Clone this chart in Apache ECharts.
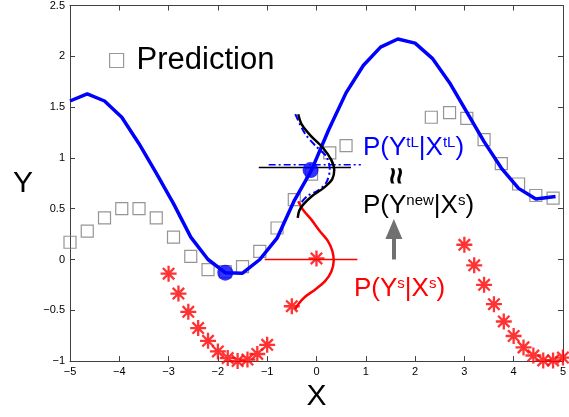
<!DOCTYPE html>
<html>
<head>
    <meta charset="utf-8">
    <title>GP transfer</title>
    <script src="https://cdn.jsdelivr.net/npm/echarts@6/dist/echarts.min.js"></script>
</head>
<body style="margin:0">
    <div id="main" style="width: 569px;height:417px;"></div>
    <script type="text/javascript">
        // blue GP mean curve
        var meanX = [-5, -4.65, -4.3, -3.95, -3.6, -3.25, -2.9, -2.55, -2.2, -1.85, -1.5, -1.15, -0.8, -0.45, -0.1,
                     0.25, 0.6, 0.95, 1.3, 1.65, 2.0, 2.35, 2.7, 3.05, 3.4, 3.75, 4.1, 4.45, 4.85];
        var meanY = [1.56, 1.63, 1.56, 1.40, 1.14, 0.85, 0.55, 0.22, 0.0, -0.13, -0.135, 0.0, 0.21, 0.58, 0.88,
                     1.28, 1.64, 1.91, 2.09, 2.17, 2.13, 1.98, 1.74, 1.45, 1.16, 0.90, 0.70, 0.595, 0.62];
        // grey squares (prediction)
        var predX = [-5, -4.65, -4.3, -3.95, -3.6, -3.25, -2.9, -2.55, -2.2, -1.85, -1.5, -1.15, -0.8, -0.45, -0.1,
                     0.27, 0.6, 2.33, 2.7, 3.05, 3.4, 3.75, 4.1, 4.45, 4.8];
        var predY = [0.17, 0.28, 0.41, 0.50, 0.50, 0.41, 0.22, 0.03, -0.1, -0.12, -0.07, 0.08, 0.31, 0.59, 0.84,
                     1.05, 1.12, 1.40, 1.445, 1.39, 1.18, 0.944, 0.743, 0.63, 0.605];
        // red source samples
        var srcX = [-3, -2.8, -2.6, -2.4, -2.2, -2.0, -1.8, -1.6, -1.4, -1.2, -1.0, -0.5, 0,
                    3.0, 3.2, 3.4, 3.6, 3.8, 4.0, 4.2, 4.4, 4.6, 4.8, 5.0];
        var srcY = [-0.14, -0.335, -0.515, -0.675, -0.80, -0.905, -0.97, -1.0, -0.985, -0.93, -0.84, -0.46, 0.01,
                    0.145, -0.057, -0.249, -0.44, -0.61, -0.753, -0.865, -0.945, -0.993, -0.993, -0.965];
        // big blue dots
        var dotX = [-1.85, -0.12];
        var dotY = [-0.13, 0.88];
        // red density P(Ys|Xs), drawn sideways
        var redDensX = [-0.37, -0.27, -0.1, 0.07, 0.23, 0.32, 0.35, 0.3, 0.17, -0.03, -0.23, -0.37, -0.43];
        var redDensY = [0.573, 0.487, 0.39, 0.278, 0.183, 0.087, -0.01, -0.12, -0.216, -0.297, -0.367, -0.44, -0.49];
        // black density P(Ynew|Xs)
        var blkDensX = [-0.37, -0.3, -0.12, 0.13, 0.3, 0.36, 0.32, 0.16, -0.1, -0.27, -0.35, -0.38];
        var blkDensY = [1.43, 1.33, 1.22, 1.1, 0.98, 0.88, 0.79, 0.71, 0.62, 0.54, 0.48, 0.41];
        // blue dash-dot density P(YtL|XtL)
        var bluDensX = [-0.43, -0.23, 0, 0.2, 0.27, 0.2, 0.03, -0.17, -0.3];
        var bluDensY = [1.43, 1.237, 1.11, 1.014, 0.886, 0.758, 0.678, 0.63, 0.566];
        // horizontal reference lines
        var redLineX = [-1.05, 0.83], redLineY = [0, 0];
        var blkLineX = [-1.17, 0.7], blkLineY = [0.905, 0.905];
        var bluLineX = [-0.97, 0.9], bluLineY = [0.932, 0.932];
        // arrow from P(Ys|Xs) to P(Ynew|Xs)
        var arrowX = [1.57, 1.57], arrowY = [0.0, 0.3];
        var xTicks = [-5, 5, 1];
        var yTicks = [-1, 2.5, 0.5];

        function pairs(xs, ys) {
            var out = [];
            for (var i = 0; i < xs.length; i++) out.push([xs[i], ys[i]]);
            return out;
        }
        function minus(v) { return String(v).replace('-', '\u2212'); }

        var axisCol = '#404040';
        var font = 'Liberation Sans, Arial, Helvetica, sans-serif';
        var star = 'path://M0,8L16,8M8,0L8,16M2.3,2.3L13.7,13.7M13.7,2.3L2.3,13.7';

        var myChart = echarts.init(document.getElementById('main'));

        var option = {
            animation: false,
            grid: { left: 70, top: 5, width: 500, height: 365 },
            textStyle: { fontFamily: font },
            legend: {
                left: 104, top: 40,
                itemWidth: 14, itemHeight: 14,
                textStyle: { fontSize: 31, color: '#000', padding: [0, 0, 0, 8] },
                data: [{ name: 'Prediction', icon: 'rect',
                         itemStyle: { color: '#fff', borderColor: '#808080', borderWidth: 1.2 } }]
            },
            xAxis: [{
                type: 'value', min: xTicks[0], max: xTicks[1], interval: xTicks[2],
                name: 'X', nameLocation: 'middle', nameGap: 18,
                nameTextStyle: { fontSize: 30, color: '#000' },
                axisLine: { onZero: false, lineStyle: { color: axisCol } },
                axisTick: { inside: true, length: 5, lineStyle: { color: axisCol } },
                axisLabel: { fontSize: 11, color: '#000', margin: 5, formatter: minus },
                splitLine: { show: false }
            }, {
                type: 'value', position: 'top', min: xTicks[0], max: xTicks[1], interval: xTicks[2],
                axisLine: { onZero: false, lineStyle: { color: axisCol } },
                axisTick: { inside: true, length: 5, lineStyle: { color: axisCol } },
                axisLabel: { show: false }, splitLine: { show: false }
            }],
            yAxis: [{
                type: 'value', min: yTicks[0], max: yTicks[1], interval: yTicks[2],
                name: 'Y', nameLocation: 'middle', nameGap: 37, nameRotate: 0,
                nameTextStyle: { fontSize: 30, color: '#000' },
                axisLine: { onZero: false, lineStyle: { color: axisCol } },
                axisTick: { inside: true, length: 5, lineStyle: { color: axisCol } },
                axisLabel: { fontSize: 11, color: '#000', margin: 5, formatter: minus },
                splitLine: { show: false }
            }, {
                type: 'value', position: 'right', min: yTicks[0], max: yTicks[1], interval: yTicks[2],
                axisLine: { onZero: false, lineStyle: { color: axisCol } },
                axisTick: { inside: true, length: 5, lineStyle: { color: axisCol } },
                axisLabel: { show: false }, splitLine: { show: false }
            }],
            series: [
                { name: 'Prediction', type: 'scatter', symbol: 'rect', symbolSize: 12, z: 1,
                  itemStyle: { color: 'rgba(0,0,0,0)', borderColor: '#7a7a7a', borderWidth: 1.2 },
                  data: pairs(predX, predY) },
                { name: 'mean', type: 'line', showSymbol: false, z: 3,
                  lineStyle: { color: '#0000ff', width: 3.5 },
                  data: pairs(meanX, meanY) },
                { name: 'source', type: 'scatter', symbol: star, symbolSize: 16, z: 4,
                  itemStyle: { color: 'rgba(0,0,0,0)', borderColor: '#ff0000', borderWidth: 2.3 },
                  data: pairs(srcX, srcY) },
                { name: 'redLine', type: 'line', showSymbol: false, z: 2,
                  lineStyle: { color: '#ff0000', width: 1.5 }, data: pairs(redLineX, redLineY) },
                { name: 'blkLine', type: 'line', showSymbol: false, z: 2,
                  lineStyle: { color: '#000', width: 1.5 }, data: pairs(blkLineX, blkLineY) },
                { name: 'bluLine', type: 'line', showSymbol: false, z: 2,
                  lineStyle: { color: '#0000ff', width: 1.5, type: [7, 3, 2, 3] }, data: pairs(bluLineX, bluLineY) },
                { name: 'redDens', type: 'line', showSymbol: false, smooth: 0.3, z: 3,
                  lineStyle: { color: '#ff0000', width: 2.5 }, data: pairs(redDensX, redDensY) },
                { name: 'bluDens', type: 'line', showSymbol: false, smooth: 0.3, z: 3,
                  lineStyle: { color: '#0000ff', width: 2, type: [7, 3, 2, 3] }, data: pairs(bluDensX, bluDensY) },
                { name: 'blkDens', type: 'line', showSymbol: false, smooth: 0.3, z: 3,
                  lineStyle: { color: '#000', width: 2.5 }, data: pairs(blkDensX, blkDensY) },
                { name: 'dots', type: 'scatter', symbolSize: 16, z: 5,
                  itemStyle: { color: '#0000ff' }, data: pairs(dotX, dotY) },
                { name: 'arrow', type: 'line', data: [], z: 4,
                  markLine: {
                      silent: true, symbol: ['none', 'triangle'], symbolSize: [17, 20],
                      label: { show: false },
                      lineStyle: { color: '#707070', width: 4, type: 'solid' },
                      data: [[{ coord: [arrowX[0], arrowY[0]] }, { coord: [arrowX[1], arrowY[1]] }]]
                  } }
            ],
            graphic: [
                { type: 'text', left: 360, top: 133, z: 100,
                  style: { text: '{a|P(Y}{s|tL}{a||X}{s|tL}{a|)}', backgroundColor: '#fff',
                           padding: [2, 3, 2, 3],
                           rich: { a: { fontSize: 26, fontFamily: font, fill: '#0000ff', verticalAlign: 'bottom' },
                                   s: { fontSize: 15, fontFamily: font, fill: '#0000ff', verticalAlign: 'top' } } } },
                { type: 'text', x: 398, y: 176, rotation: Math.PI / 2, z: 100,
                  style: { text: '\u2248', fontSize: 30, fontWeight: 'bold', fontFamily: font, fill: '#000',
                           align: 'center', verticalAlign: 'middle' } },
                { type: 'text', left: 363, top: 193, z: 100,
                  style: { text: '{a|P(Y}{s|new}{a||X}{s|s}{a|)}',
                           rich: { a: { fontSize: 26, fontFamily: font, fill: '#000', verticalAlign: 'bottom' },
                                   s: { fontSize: 15, fontFamily: font, fill: '#000', verticalAlign: 'top' } } } },
                { type: 'text', left: 354, top: 276, z: 100,
                  style: { text: '{a|P(Y}{s|s}{a||X}{s|s}{a|)}',
                           rich: { a: { fontSize: 26, fontFamily: font, fill: '#ff0000', verticalAlign: 'bottom' },
                                   s: { fontSize: 15, fontFamily: font, fill: '#ff0000', verticalAlign: 'top' } } } }
            ]
        };
        myChart.setOption(option);
    </script>
</body>
</html>
